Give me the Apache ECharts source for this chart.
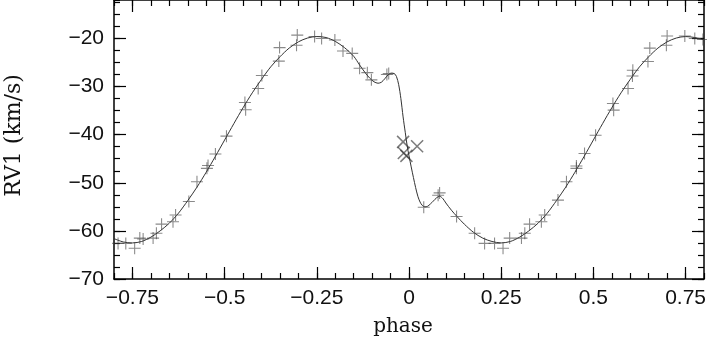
<!DOCTYPE html>
<html>
<head>
<meta charset="utf-8">
<script src="https://cdn.jsdelivr.net/npm/echarts@6/dist/echarts.min.js"></script>
<style>
html,body{margin:0;padding:0;background:#fff;}
#chart{width:707px;height:341px;}
</style>
</head>
<body>
<div id="chart"></div>
<script>
// Tick labels
const xTickValues = [-0.75, -0.5, -0.25, 0, 0.25, 0.5, 0.75];
const yTickValues = [-70, -60, -50, -40, -30, -20];

// "+" observations (phase, RV1 km/s)
const plusPhase = [-0.789, -0.768, -0.744, -0.730, -0.721, -0.694, -0.685, -0.671, -0.640, -0.633,
  -0.597, -0.575, -0.548, -0.545, -0.525, -0.495, -0.445, -0.443, -0.409, -0.399,
  -0.353, -0.351, -0.305, -0.303, -0.256, -0.237, -0.201, -0.179, -0.154, -0.134,
  -0.113, -0.102, -0.060, -0.055, 0.040, 0.079, 0.083, 0.129, 0.178, 0.205,
  0.232, 0.255, 0.273, 0.305, 0.314, 0.327, 0.359, 0.368, 0.404, 0.427,
  0.454, 0.454, 0.476, 0.506, 0.553, 0.555, 0.594, 0.607, 0.606, 0.648,
  0.653, 0.698, 0.700, 0.748, 0.775, 0.797];
const plusRV = [-62.6, -62.6, -63.6, -61.5, -61.7, -61.5, -60.5, -58.6, -58.1, -56.7,
  -53.9, -49.8, -47.0, -46.4, -44.0, -40.3, -33.3, -34.8, -30.4, -27.7,
  -24.7, -21.9, -21.4, -19.3, -19.6, -20.0, -20.3, -22.6, -23.1, -26.2,
  -27.1, -28.6, -27.5, -27.3, -55.1, -52.6, -52.1, -57.0, -60.5, -62.6,
  -62.6, -63.6, -61.5, -61.5, -60.5, -58.6, -58.1, -56.7, -53.6, -49.8,
  -47.0, -46.5, -43.9, -40.1, -33.5, -34.9, -30.4, -26.6, -27.8, -24.8,
  -22.0, -21.4, -19.5, -19.5, -20.0, -20.2];

// "x" observations (during eclipse)
const crossPhase = [-0.016, 0.022, -0.014, -0.007];
const crossRV = [-41.5, -42.4, -43.8, -44.4];

// Model curve
const curvePhase = [-0.80, -0.775, -0.75, -0.725, -0.70, -0.675, -0.65, -0.625, -0.60, -0.575,
  -0.55, -0.525, -0.50, -0.475, -0.45, -0.425, -0.40, -0.375, -0.35, -0.325,
  -0.30, -0.275, -0.25, -0.225, -0.20, -0.175, -0.15, -0.134, -0.12, -0.107,
  -0.095, -0.084, -0.075, -0.066, -0.057, -0.048, -0.040, -0.034, -0.028, -0.022,
  -0.016, -0.010, -0.005, 0.0, 0.006, 0.012, 0.018, 0.024, 0.030, 0.036,
  0.043, 0.050, 0.058, 0.066, 0.075, 0.083, 0.092, 0.10, 0.115, 0.13,
  0.15, 0.175, 0.20, 0.225, 0.25, 0.275, 0.30, 0.325, 0.35, 0.375,
  0.40, 0.425, 0.45, 0.475, 0.50, 0.525, 0.55, 0.575, 0.60, 0.625,
  0.65, 0.675, 0.70, 0.725, 0.75, 0.775, 0.80];
const curveRV = [-61.6, -62.3, -62.5, -62.2, -61.3, -60.0, -58.4, -56.3, -53.7, -50.9,
  -47.8, -44.5, -41.1, -37.7, -34.4, -31.3, -28.5, -25.9, -23.8, -22.0,
  -20.7, -19.9, -19.6, -19.8, -20.6, -21.9, -23.7, -25.5, -27.0, -28.2,
  -29.0, -29.3, -29.1, -28.4, -27.6, -27.2, -27.3, -27.9, -29.6, -32.5,
  -36.3, -39.6, -42.3, -44.4, -46.7, -48.9, -51.0, -52.8, -54.0, -54.7,
  -55.0, -54.9, -54.4, -53.8, -53.1, -52.8, -53.3, -54.2, -55.7, -57.0,
  -58.6, -60.3, -61.5, -62.2, -62.5, -62.2, -61.3, -60.0, -58.4, -56.3,
  -53.7, -50.9, -47.8, -44.5, -41.1, -37.7, -34.4, -31.3, -28.5, -25.9,
  -23.8, -22.0, -20.7, -19.9, -19.6, -19.8, -20.3];

const zip = (a, b) => a.map((v, i) => [v, b[i]]);
const minusFmt = v => String(v).replace('-', '\u2212');
const tickFont = { fontFamily: 'Liberation Sans', fontSize: 21, color: '#111' };
const X_MIN = -0.8, X_MAX = 0.8, Y_MIN = -70, Y_MAX = -12;
const lineCol = '#000';

function xAxisDef(pos, major, labels) {
  const a = {
    type: 'value', position: pos, min: X_MIN, max: X_MAX,
    splitLine: { show: false },
    axisLine: { show: major, onZero: false, lineStyle: { color: lineCol, width: 1.5 } },
    axisTick: major
      ? { inside: true, length: 12, customValues: xTickValues, lineStyle: { color: lineCol, width: 1.2 } }
      : { inside: true, length: 6, lineStyle: { color: lineCol, width: 1.2 } },
    axisLabel: labels
      ? Object.assign({ customValues: xTickValues, formatter: minusFmt, margin: 9 }, tickFont)
      : { show: false }
  };
  if (!major) a.interval = 0.05;
  if (labels) {
    a.name = 'phase'; a.nameLocation = 'middle'; a.nameGap = 38;
    a.nameTextStyle = { fontFamily: 'DejaVu Serif', fontSize: 20, color: '#111', padding: [0, 12, 0, 0] };
  }
  return a;
}
function yAxisDef(pos, major, labels) {
  const a = {
    type: 'value', position: pos, min: Y_MIN, max: Y_MAX,
    splitLine: { show: false },
    axisLine: { show: major, onZero: false, lineStyle: { color: lineCol, width: 1.5 } },
    axisTick: major
      ? { inside: true, length: 12, customValues: yTickValues, lineStyle: { color: lineCol, width: 1.2 } }
      : { inside: true, length: 6, lineStyle: { color: lineCol, width: 1.2 } },
    axisLabel: labels
      ? Object.assign({ customValues: yTickValues, formatter: minusFmt, margin: 10 }, tickFont)
      : { show: false }
  };
  if (!major) a.interval = 2.5;
  if (labels) {
    a.name = 'RV1 (km/s)'; a.nameLocation = 'middle'; a.nameGap = 89; a.nameRotate = 90;
    a.nameTextStyle = { fontFamily: 'DejaVu Serif', fontSize: 22, color: '#111', padding: [0, 0, 0, 8] };
  }
  return a;
}

const plusPath = 'path://M0,9.1H20V10.9H0ZM9.1,0H10.9V20H9.1Z';

const chart = echarts.init(document.getElementById('chart'), null, { renderer: 'canvas' });
chart.setOption({
  animation: false,
  backgroundColor: '#fff',
  grid: { left: 114, right: 3, top: 0, bottom: 62, containLabel: false, outerBoundsMode: 'none' },
  xAxis: [xAxisDef('bottom', true, true), xAxisDef('bottom', false, false),
          xAxisDef('top', true, false), xAxisDef('top', false, false)],
  yAxis: [yAxisDef('left', true, true), yAxisDef('left', false, false),
          yAxisDef('right', true, false), yAxisDef('right', false, false)],
  series: [
    {
      type: 'line', xAxisIndex: 0, yAxisIndex: 0,
      data: zip(curvePhase, curveRV), showSymbol: false, smooth: 0.3,
      lineStyle: { color: '#333', width: 1 }, silent: true, z: 2
    },
    {
      type: 'scatter', xAxisIndex: 0, yAxisIndex: 0,
      data: zip(plusPhase, plusRV), symbol: plusPath, symbolSize: 12,
      itemStyle: { color: 'rgba(60,60,60,0.75)' }, silent: true, z: 3
    },
    {
      type: 'scatter', xAxisIndex: 0, yAxisIndex: 0,
      data: zip(crossPhase, crossRV), symbol: plusPath, symbolSize: 17, symbolRotate: 45,
      itemStyle: { color: 'rgba(50,50,50,0.8)' }, silent: true, z: 3
    }
  ]
});
</script>
</body>
</html>
